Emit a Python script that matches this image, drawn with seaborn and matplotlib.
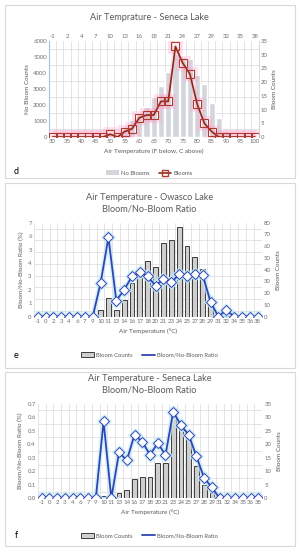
import numpy as np
import matplotlib
matplotlib.use("Agg")
import matplotlib.pyplot as plt
import seaborn as sns
from matplotlib.patches import Patch, Rectangle
from matplotlib.lines import Line2D

# ---- data ----
# panel d: Seneca Lake, air temperature bins in F (C labels on top)
f_temps = [30, 32.5, 35, 37.5, 40, 42.5, 45, 47.5, 50, 52.5, 55, 57.5, 60, 62.5, 65,
           67.5, 70, 72.5, 75, 77.5, 80, 82.5, 85, 87.5, 90, 92.5, 95, 97.5, 100]
f_ticks = [30, 35, 40, 45, 50, 55, 60, 65, 70, 75, 80, 85, 90, 95, 100]
c_top_labels = ['-1', '2', '4', '7', '10', '13', '16', '18', '21', '24', '27', '29', '32', '35', '38']
seneca_no_blooms = [0, 0, 0, 0, 0, 0, 0, 0, 170, 150, 590, 1070, 1490, 1900, 2500,
                    3170, 4060, 5200, 5000, 4850, 3850, 3300, 2100, 1200, 350, 100, 40, 0, 0]
seneca_blooms = [0, 0, 0, 0, 0, 0, 0, 0, 1, 0, 2, 3, 7, 8, 8,
                 13, 13, 33, 27, 23, 12, 5, 2, 0, 0, 0, 0, 0, 0]

# panels e, f: same bins labelled in C
c_labels = ['-1', '0', '2', '3', '4', '6', '7', '9', '10', '11', '13', '14', '16', '17', '18',
            '20', '21', '23', '24', '25', '27', '28', '29', '31', '32', '34', '35', '36', '38']
owasco_counts = [0, 0, 0, 0, 0, 0, 0, 0, 6, 16, 6, 14, 29, 36, 47,
                 42, 63, 65, 76, 60, 51, 41, 10, 0, 1, 0, 0, 0, 0]
owasco_ratio = [0, 0, 0, 0, 0, 0, 0, 0, 2.5, 5.9, 1.2, 2.0, 3.0, 3.3, 3.0,
                2.3, 2.8, 2.55, 3.15, 3.0, 3.15, 3.1, 1.1, 0, 0.5, 0, 0, 0, 0]
seneca_counts = seneca_blooms
seneca_ratio = [0, 0, 0, 0, 0, 0, 0, 0, 0.57, 0, 0.34, 0.28, 0.47, 0.42, 0.32,
                0.41, 0.32, 0.64, 0.54, 0.47, 0.31, 0.15, 0.08, 0, 0, 0, 0, 0, 0]

sns.set_theme(style="white")
plt.rcParams['font.family'] = ['Lato', 'DejaVu Sans']

TXT = '#595959'
TICK = '#6f6f6f'
GRID = '#d9d9d9'
BLUE = '#2f45b4'
GLOW_B = '#c4ebf7'

fig = plt.figure(figsize=(2.99, 5.5), dpi=100)

# panel cards
for (y0, y1) in [(5, 178), (183, 368), (372, 546)]:
    fig.patches.append(Rectangle((5 / 299, 1 - y1 / 550), 290 / 299, (y1 - y0) / 550,
                                 transform=fig.transFigure, facecolor='white',
                                 edgecolor='#d9d9d9', lw=0.8, zorder=-5))


def style_ticks(a):
    a.tick_params(axis='both', which='both', length=0, labelsize=4.3, colors=TICK, pad=1.5)


# ---------------- panel d ----------------
ax = fig.add_axes([48.9 / 299, 1 - 137 / 550, 209.7 / 299, 96 / 550])
ax.patch.set_visible(False)
sns.barplot(x=f_temps, y=seneca_no_blooms, native_scale=True, color='#d3d7dc',
            saturation=1, width=0.85, ax=ax, zorder=2)
ax.set_xlim(28.75, 101.25)
ax.set_ylim(0, 6000)
ax.set_yticks(range(0, 6001, 1000))
ax.set_yticks(range(0, 6001, 500), minor=True)
ax.set_xticks(f_ticks)
ax.set_xticks([t - 1.25 for t in f_temps] + [101.25], minor=True)
ax.grid(which='minor', color=GRID, lw=0.5)
ax.set_axisbelow(True)
style_ticks(ax)
for s in ['top', 'right', 'bottom']:
    ax.spines[s].set_visible(False)
ax.spines['left'].set_color('#9cc3e6')
ax.spines['left'].set_linewidth(0.8)
ax.set_ylabel('No Bloom Counts', fontsize=4.6, color=TXT, labelpad=2)
ax.set_xlabel('Air Temperature (F below, C above)', fontsize=4.6, color=TXT, labelpad=3)

sec = ax.secondary_xaxis('top')
sec.set_xticks(f_ticks, labels=c_top_labels)
sec.tick_params(length=0, labelsize=4.3, colors=TICK, pad=1.5)
sec.spines['top'].set_visible(False)

ax2 = ax.twinx()
sns.lineplot(x=f_temps, y=seneca_blooms, ax=ax2, color='#ffa6d2', lw=3.5, alpha=0.35,
             marker='s', ms=8, mec='#ffa6d2', mfc='none', mew=2)
sns.lineplot(x=f_temps, y=seneca_blooms, ax=ax2, color='#8c2a12', lw=1.2,
             marker='s', ms=6, mfc='none', mec='#b03a2e', mew=0.8)
ax2.set_ylim(0, 35)
ax2.set_yticks(range(0, 36, 5))
ax2.set_xlim(28.75, 101.25)
style_ticks(ax2)
for s in ['top', 'left', 'bottom']:
    ax2.spines[s].set_visible(False)
ax2.spines['right'].set_color('#d0d0d0')
ax2.spines['right'].set_linewidth(0.6)
ax2.set_ylabel('Bloom Counts', fontsize=4.6, color=TXT, labelpad=3)

fig.text(0.5, 1 - 17 / 550, 'Air Temprature - Seneca Lake', ha='center', va='center',
         fontsize=6.6, color=TXT)
fig.text(16 / 299, 1 - 172 / 550, 'd', ha='center', va='center', fontsize=6.5, color='black')
fig.legend(handles=[Patch(facecolor='#d3d7dc', edgecolor='none', label='No Blooms'),
                    Line2D([], [], color='#8c2a12', lw=1.2, marker='s', ms=4, mfc='none',
                           mec='#b03a2e', label='Blooms')],
           loc='center', bbox_to_anchor=(0.5, 1 - 173 / 550), ncol=2, frameon=False,
           fontsize=4.2, labelcolor=TXT, handlelength=2.2, handleheight=0.8,
           columnspacing=1.5, handletextpad=0.4)


# ---------------- panels e and f ----------------
def ratio_panel(rect, counts, ratio, ylim_l, yticks_l, ylim_r, yticks_r, title, letter, ly,
                leg_y):
    axb = fig.add_axes(rect)
    axb.patch.set_visible(False)
    sns.barplot(x=c_labels, y=counts, color='#cfcfcf', edgecolor='#3c3c3c', linewidth=0.7,
                saturation=1, width=0.62, ax=axb, zorder=2)
    n = len(c_labels)

    axl = axb.twinx()
    pos = np.arange(n)
    sns.lineplot(x=pos, y=ratio, ax=axl, color=GLOW_B, lw=3.5, alpha=0.7,
                 marker='D', ms=7, mec=GLOW_B, mfc=GLOW_B)
    sns.lineplot(x=pos, y=ratio, ax=axl, color=BLUE, lw=1.3,
                 marker='D', ms=5, mfc='white', mec=BLUE, mew=0.7)

    # bars on the right-hand axis, ratio on the left-hand axis
    axb.yaxis.tick_right()
    axb.yaxis.set_label_position('right')
    axl.yaxis.tick_left()
    axl.yaxis.set_label_position('left')

    axb.set_ylim(*ylim_r)
    axb.set_yticks(yticks_r)
    axb.set_yticks(np.arange(ylim_r[0], ylim_r[1] + 0.01, yticks_r[1] / 2), minor=True)
    axb.set_xticks(np.arange(-0.5, n, 1), minor=True)
    axb.grid(which='minor', color=GRID, lw=0.5)
    axb.set_axisbelow(True)
    axb.set_ylabel('Bloom Counts', fontsize=4.6, color=TXT, labelpad=4)
    axb.set_xlabel('Air Temperature (°C)', fontsize=4.6, color=TXT, labelpad=3)
    style_ticks(axb)
    axb.tick_params(axis='x', labelsize=4.4, pad=1.5)
    for s in axb.spines.values():
        s.set_visible(False)

    axl.set_ylim(*ylim_l)
    axl.set_yticks(yticks_l)
    axl.set_xlim(-0.5, n - 0.5)
    axb.set_xlim(-0.5, n - 0.5)
    axl.set_ylabel('Bloom/No-Bloom Ratio (%)', fontsize=4.6, color=TXT, labelpad=3)
    style_ticks(axl)
    for s in axl.spines.values():
        s.set_visible(False)

    fig.text(0.5, 1 - ly / 550, title, ha='center', va='center', fontsize=6.6, color=TXT,
             linespacing=1.35)
    fig.text(16 / 299, 1 - leg_y / 550, letter, ha='center', va='center', fontsize=6.5,
             color='black')
    fig.legend(handles=[Patch(facecolor='#cfcfcf', edgecolor='#3c3c3c', lw=0.7,
                              label='Bloom Counts'),
                        Line2D([], [], color=BLUE, lw=1.3, label='Bloom/No-Bloom Ratio')],
               loc='center', bbox_to_anchor=(0.5, 1 - leg_y / 550), ncol=2, frameon=False,
               fontsize=4.2, labelcolor=TXT, handlelength=2.2, handleheight=0.8,
               columnspacing=1.5, handletextpad=0.4)


ratio_panel([33.8 / 299, 1 - 316.7 / 550, 227.8 / 299, 94 / 550], owasco_counts, owasco_ratio,
            (0, 7), list(range(0, 8)), (0, 80), list(range(0, 81, 10)),
            'Air Temperature - Owasco Lake\nBloom/No-Bloom Ratio', 'e', 203, 355)

ratio_panel([37.8 / 299, 1 - 498.3 / 550, 224.4 / 299, 94.6 / 550], seneca_counts, seneca_ratio,
            (0, 0.7), [0, 0.1, 0.2, 0.3, 0.4, 0.5, 0.6, 0.7], (0, 35), list(range(0, 36, 5)),
            'Air Temperature - Seneca Lake\nBloom/No-Bloom Ratio', 'f', 384, 536)

fig.savefig('out.png', dpi=100, facecolor='white')
